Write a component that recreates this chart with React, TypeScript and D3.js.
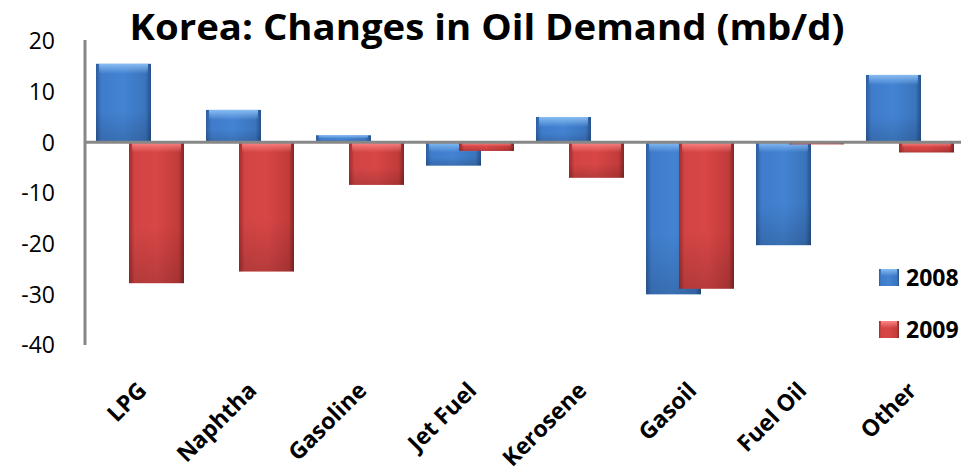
import React from "react";
import * as d3 from "d3";

const categories = ["LPG", "Naphtha", "Gasoline", "Jet Fuel", "Kerosene", "Gasoil", "Fuel Oil", "Other"];
const values2008 = [15.5, 6.4, 1.4, -4.6, 5.0, -30.0, -20.3, 13.3];
const values2009 = [-27.8, -25.5, -8.4, -1.7, -7.0, -28.9, -0.4, -2.0];
const seriesNames = ["2008", "2009"];
const yTicks = [20, 10, 0, -10, -20, -30, -40];
const title = "Korea:  Changes in Oil Demand (mb/d)";

const W = 972;
const H = 473;

export default function App() {
  const x = d3.scaleBand<string>().domain(categories).range([85, 965]).paddingInner(0.2).paddingOuter(0.1);
  const y = d3.scaleLinear().domain([-40, 20]).range([345, 41]);
  const bw = x.bandwidth() / 1.6;
  const offset = bw * 0.6;
  const series = [
    { name: seriesNames[0], values: values2008, grad: "gBlue", hi: "hBlue", off: 0 },
    { name: seriesNames[1], values: values2009, grad: "gRed", hi: "hRed", off: offset },
  ];
  const font = "'Open Sans', 'DejaVu Sans', sans-serif";

  return (
    <svg width={W} height={H} style={{ position: "absolute", left: 0, top: 0, background: "#fff" }}>
      <defs>
        <linearGradient id="gBlue" x1="0" x2="1" y1="0" y2="0">
          <stop offset="0" stopColor="#2c5c9c" />
          <stop offset="0.1" stopColor="#3f7ccb" />
          <stop offset="0.5" stopColor="#4383d2" />
          <stop offset="0.9" stopColor="#3a74bd" />
          <stop offset="1" stopColor="#26508a" />
        </linearGradient>
        <linearGradient id="gRed" x1="0" x2="1" y1="0" y2="0">
          <stop offset="0" stopColor="#9e2c2c" />
          <stop offset="0.1" stopColor="#d24444" />
          <stop offset="0.5" stopColor="#d84646" />
          <stop offset="0.9" stopColor="#c23b3b" />
          <stop offset="1" stopColor="#842626" />
        </linearGradient>
        <linearGradient id="hBlue" x1="0" x2="0" y1="0" y2="1">
          <stop offset="0" stopColor="#8cc0f5" stopOpacity="0.95" />
          <stop offset="1" stopColor="#8cc0f5" stopOpacity="0" />
        </linearGradient>
        <linearGradient id="hRed" x1="0" x2="0" y1="0" y2="1">
          <stop offset="0" stopColor="#ff8a8a" stopOpacity="0.95" />
          <stop offset="1" stopColor="#ff8a8a" stopOpacity="0" />
        </linearGradient>
        <linearGradient id="shade" x1="0" x2="0" y1="0" y2="1">
          <stop offset="0" stopColor="#000" stopOpacity="0" />
          <stop offset="1" stopColor="#000" stopOpacity="0.15" />
        </linearGradient>
      </defs>

      <text x={487} y={40} textAnchor="middle" fontFamily={font} fontWeight="bold" fontSize={35}
        textLength={715} lengthAdjust="spacingAndGlyphs" fill="#000">{title}</text>

      {yTicks.map((t) => (
        <text key={t} x={55} y={y(t)} dy="0.36em" textAnchor="end" fontFamily={font} fontSize={23} fill="#000">{t}</text>
      ))}

      {series.map((s) => (
        <g key={s.name}>
          {categories.map((c, i) => {
            const v = s.values[i];
            const x0 = (x(c) as number) + s.off;
            const top = y(Math.max(0, v));
            const h = Math.max(1.5, Math.abs(y(v) - y(0)));
            const hh = Math.min(10, h * 0.5);
            return (
              <g key={c}>
                <rect x={x0} y={top} width={bw} height={h} fill={`url(#${s.grad})`} />
                <rect x={x0} y={top + h * 0.6} width={bw} height={h * 0.4} fill="url(#shade)" />
                <rect x={x0 + 3} y={top} width={bw - 6} height={hh} fill={`url(#${s.hi})`} />
              </g>
            );
          })}
        </g>
      ))}

      <line x1={85} x2={961} y1={y(0)} y2={y(0)} stroke="#878787" strokeWidth={3} />
      <line x1={85} x2={85} y1={y(20) - 1} y2={y(-40)} stroke="#878787" strokeWidth={3} />

      {categories.map((c) => {
        const cx = (x(c) as number) + x.bandwidth() / 2 + 8;
        return (
          <text key={c} transform={`translate(${cx},${392}) rotate(-45)`} textAnchor="end"
            fontFamily={font} fontWeight="bold" fontSize={23} fill="#000">{c}</text>
        );
      })}

      {series.map((s, i) => (
        <g key={s.name} transform={`translate(879,${269 + i * 52})`}>
          <rect x={0} y={0} width={20} height={17} fill={`url(#${s.grad})`} />
          <rect x={2} y={0} width={16} height={7} fill={`url(#${s.hi})`} />
          <text x={27} y={8.5} dy="0.36em" fontFamily={font} fontWeight="bold" fontSize={23} fill="#000">{s.name}</text>
        </g>
      ))}
    </svg>
  );
}
